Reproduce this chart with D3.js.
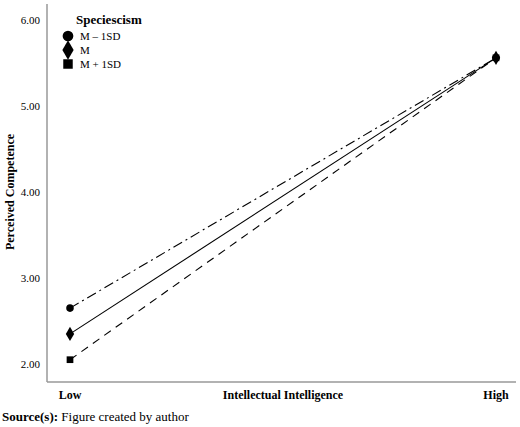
<!DOCTYPE html><html><head><meta charset="utf-8">
<script src="https://cdn.jsdelivr.net/npm/d3@7"></script>
<style>body{margin:0;background:#fff}</style></head><body>
<svg id="c" width="520" height="427"></svg>
<script>
const categories = ["Low","High"];
const seriesNames = ["M – 1SD","M","M + 1SD"];
const seriesLow = [2.65, 2.35, 2.05];
const seriesHigh = [5.56, 5.56, 5.56];
const yTicks = [2,3,4,5,6];
const svg = d3.select("#c");
const font = "'Liberation Serif', 'Times New Roman', serif";
const x = d3.scalePoint().domain(categories).range([70,496]);
const y = d3.scaleLinear().domain([2,6]).range([364,20]);
const symbols = [d3.symbolCircle, d3.symbolDiamond, d3.symbolSquare];
const dashes = ["10,4,2,4", null, "8,6"];
// axes
svg.append("line").attr("x1",47).attr("x2",47).attr("y1",4).attr("y2",382).attr("stroke","#999").attr("stroke-width",1.5);
svg.append("line").attr("x1",47).attr("x2",516).attr("y1",382).attr("y2",382).attr("stroke","#999").attr("stroke-width",1.5);
yTicks.forEach(t=>svg.append("text").attr("x",40).attr("y",y(t)+4).attr("text-anchor","end").attr("font-family",font).attr("font-size",11).text(t.toFixed(2)));
categories.forEach(c=>svg.append("text").attr("x",x(c)).attr("y",399).attr("text-anchor","middle").attr("font-family",font).attr("font-weight","bold").attr("font-size",12).text(c));
svg.append("text").attr("x",283).attr("y",399).attr("text-anchor","middle").attr("font-family",font).attr("font-weight","bold").attr("font-size",12).text("Intellectual Intelligence");
svg.append("text").attr("transform","translate(14,"+192+") rotate(-90)").attr("text-anchor","middle").attr("font-family",font).attr("font-weight","bold").attr("font-size",12).text("Perceived Competence");
const src = svg.append("text").attr("x",2).attr("y",421).attr("font-family",font).attr("font-size",13);
src.append("tspan").attr("font-weight","bold").text("Source(s):");
src.append("tspan").text(" Figure created by author");
// lines
seriesNames.forEach((n,i)=>{
  svg.append("line").attr("x1",x("Low")).attr("y1",y(seriesLow[i])).attr("x2",x("High")).attr("y2",y(seriesHigh[i]))
    .attr("stroke","#000").attr("stroke-width",1.1).attr("stroke-dasharray",dashes[i]);
});
seriesNames.forEach((n,i)=>{
  [[x("Low"),y(seriesLow[i])],[x("High"),y(seriesHigh[i])]].forEach(p=>
    svg.append("path").attr("d",d3.symbol(symbols[i], i===1?60:45)()).attr("transform",`translate(${p[0]},${p[1]})`).attr("fill","#000"));
});
// legend
svg.append("text").attr("x",76).attr("y",24).attr("font-family",font).attr("font-weight","bold").attr("font-size",13).text("Speciescism");
seriesNames.forEach((n,i)=>{
  const yy = 36+i*14;
  svg.append("path").attr("d",d3.symbol(symbols[i], i===1?110:90)()).attr("transform",`translate(68,${yy})`).attr("fill","#000");
  svg.append("text").attr("x",80).attr("y",yy+4).attr("font-family",font).attr("font-size",11).text(n);
});
</script></body></html>
